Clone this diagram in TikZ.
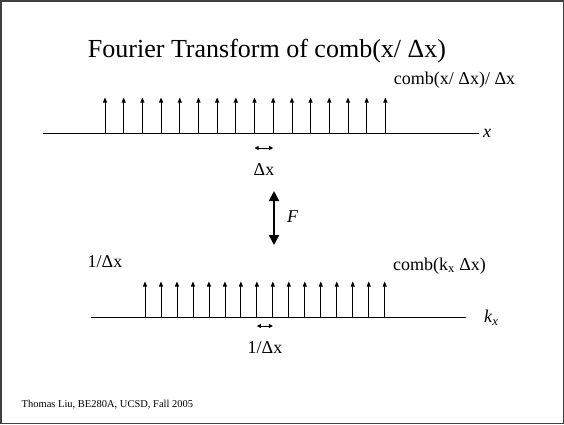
\documentclass[tikz,border=0pt]{standalone}
\usepackage{fontspec}
\setmainfont{Liberation Serif}
\usetikzlibrary{arrows.meta}
\tikzset{
  spike/.style={line width=0.8pt,-{Triangle[length=5pt,width=4pt]}},
  gap/.style={line width=0.8pt,{Triangle[length=4pt,width=4pt]}-{Triangle[length=4pt,width=4pt]}},
  axis/.style={line width=1pt},
  lbl/.style={inner sep=0pt,font=\fontsize{18}{20}\selectfont},
}
\begin{document}
\begin{tikzpicture}[x=1pt,y=1pt,yscale=-1]
%Frame
    \draw [color=black!75, line width=1.5pt] (0.75,0.75) rectangle (563.25,423.25);
    \useasboundingbox (0,0) rectangle (564,424);

% Title
    \node (title) [anchor=base, inner sep=0pt, font=\fontsize{26}{30}\selectfont] at (267,57) {Fourier Transform of comb(x/ Δx)};

%Upper axis
    \coordinate (xa) at (43,133);
    \coordinate (xb) at (479,133);
    \draw [axis] (xa) -- (xb);
    \foreach \i in {0,...,15}
      \draw [spike] (105+18.69*\i,133) coordinate (s\i) -- (105+18.69*\i,97.5);
    \draw [gap] ([yshift=15pt]s8) -- ([yshift=15pt]s9);

% Text Node
    \node (xlab) [lbl, anchor=west] at (483,133) {\textit{x}};
    \node (combx) [lbl, anchor=base] at (454.5,84) {comb(x/ Δx)/ Δx};
    \node (dx) [lbl] at (264,170) {Δx};

%Transform arrow
    \coordinate (fa) at (274,191);
    \coordinate (fb) at (274,245);
    \draw [line width=2pt, {Triangle[length=10pt,width=10pt]}-{Triangle[length=10pt,width=10pt]}] (fa) -- (fb);
    \node (flab) [lbl, anchor=west] at (287,217) {\textit{F}};

%Lower axis
    \coordinate (ka) at (91,317);
    \coordinate (kb) at (466,317);
    \draw [axis] (ka) -- (kb);
    \foreach \i in {0,...,15}
      \draw [spike] (145+15.98*\i,317) coordinate (t\i) -- (145+15.98*\i,281.5);
    \draw [gap] ([yshift=9pt]t7) -- ([yshift=9pt]t8);

% Text Node
    \node (inv) [lbl] at (105,262) {1/Δx};
    \node (combk) [lbl, anchor=base] at (439.5,270) {comb(k\textsubscript{x} Δx)};
    \node (klab) [lbl, anchor=west] at (484,318) {\textit{k}\textsubscript{\textit{x}}};
    \node (invk) [lbl] at (265,348) {1/Δx};

% Footer
    \node (foot) [anchor=west, inner sep=0pt, font=\fontsize{10.5}{12}\selectfont] at (21.5,405) {Thomas Liu, BE280A, UCSD, Fall 2005};
\end{tikzpicture}
\end{document}
